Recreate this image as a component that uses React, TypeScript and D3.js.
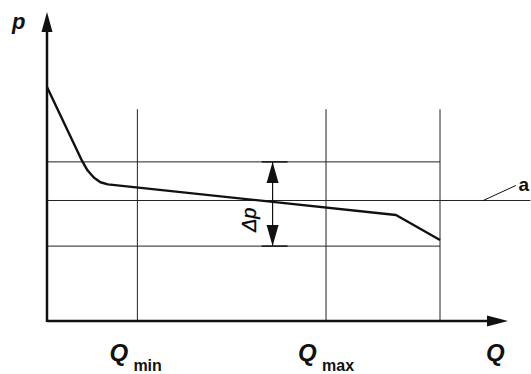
import React from 'react'
import * as d3 from 'd3'

// characteristic curve p(Q) (arbitrary units)
const flowQ = [0, 8.9, 10.3, 11.9, 13.6, 15.5, 88.8, 100]
const pressureP = [10, 6.85, 6.44, 6.13, 5.93, 5.84, 4.53, 3.46]

// reference lines
const pLevels = [6.8, 5.15, 3.2]
const pLevelEnds = [100, 123, 100]
const qMarks = [23, 71, 100]
const qMarkLabels = ['min', 'max', '']
const gridTop = 9.05

const deltaQ = 57.4
const axisMaxQ = 117.3
const axisMaxP = 13.2

const W = 531
const H = 374

export default function App() {
  const x = d3.scaleLinear().domain([0, 100]).range([47, 440])
  const y = d3.scaleLinear().domain([0, 10]).range([321, 87])

  const line = d3.line<number>()
    .x((d, i) => x(flowQ[i]))
    .y(d => y(d))
    .curve(d3.curveLinear)

  const x0 = x(0)
  const y0 = y(0)
  const xEnd = x(axisMaxQ)
  const yEnd = y(axisMaxP)

  const ax = x(deltaQ)
  const aTop = y(pLevels[0])
  const aBot = y(pLevels[2])
  const midY = y(pLevels[1])

  const font = '"Liberation Sans", Arial, sans-serif'

  return (
    <svg width={W} height={H} style={{ position: 'absolute', left: 0, top: 0, background: '#fff' }}>
      {/* grid */}
      {qMarks.map((q, i) => (
        <line key={'v' + i} x1={x(q)} x2={x(q)} y1={y(gridTop)} y2={y0} stroke="#222" strokeWidth={1} />
      ))}
      {pLevels.map((p, i) => (
        <line key={'h' + i} x1={x0} x2={x(pLevelEnds[i])} y1={y(p)} y2={y(p)} stroke="#222" strokeWidth={1} />
      ))}

      {/* curve */}
      <path d={line(pressureP) || ''} fill="none" stroke="#111" strokeWidth={2.4} strokeLinejoin="round" />

      {/* axes */}
      <line x1={x0} x2={xEnd - 14} y1={y0} y2={y0} stroke="#111" strokeWidth={2.5} />
      <path d={`M${xEnd},${y0} L${xEnd - 21},${y0 - 5.5} L${xEnd - 21},${y0 + 5.5} Z`} fill="#111" />
      <line x1={x0} x2={x0} y1={y0 + 1} y2={yEnd + 14} stroke="#111" strokeWidth={2.5} />
      <path d={`M${x0},${yEnd} L${x0 - 5.5},${yEnd + 20} L${x0 + 5.5},${yEnd + 20} Z`} fill="#111" />

      {/* delta p dimension */}
      <line x1={ax - 11} x2={ax + 15} y1={aTop} y2={aTop} stroke="#111" strokeWidth={1.4} />
      <line x1={ax - 11} x2={ax + 15} y1={aBot} y2={aBot} stroke="#111" strokeWidth={1.4} />
      <line x1={ax} x2={ax} y1={aTop} y2={aBot} stroke="#111" strokeWidth={1.2} />
      <path d={`M${ax},${aTop} L${ax - 6},${aTop + 21} L${ax + 6},${aTop + 21} Z`} fill="#111" />
      <path d={`M${ax},${aBot} L${ax - 6},${aBot - 21} L${ax + 6},${aBot - 21} Z`} fill="#111" />
      <text transform={`translate(${ax - 17},${aBot - 14}) rotate(-90)`} fontFamily={font} fontSize={20}
        fontStyle="italic" fill="#000" stroke="#000" strokeWidth={0.3}>Δp</text>

      {/* leader a */}
      <line x1={x(111)} x2={x(119.3)} y1={midY} y2={midY - 15} stroke="#111" strokeWidth={1} />
      <text x={x(120)} y={midY - 9} fontFamily={font} fontSize={19} fontWeight="bold" fill="#111">a</text>

      {/* labels */}
      <text x={12} y={29} fontFamily={font} fontSize={22} fontWeight="bold" fontStyle="italic" fill="#111">p</text>
      {qMarks.map((q, i) => qMarkLabels[i] ? (
        <g key={'l' + i}>
          <text x={x(q) - 28} y={361} fontFamily={font} fontSize={24} fontWeight="bold" fontStyle="italic" fill="#111">Q</text>
          <text x={x(q) - 4} y={371} fontFamily={font} fontSize={16} fontWeight="bold" fill="#111">{qMarkLabels[i]}</text>
        </g>
      ) : null)}
      <text x={xEnd - 22} y={361} fontFamily={font} fontSize={24} fontWeight="bold" fontStyle="italic" fill="#111">Q</text>
    </svg>
  )
}
